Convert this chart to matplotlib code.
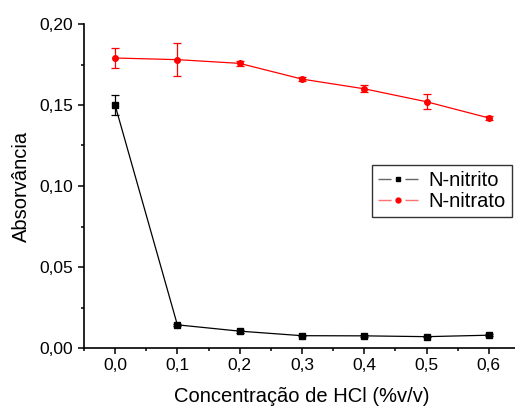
import matplotlib
matplotlib.use("Agg")
import matplotlib.pyplot as plt
from matplotlib.ticker import MultipleLocator, FuncFormatter
from matplotlib.lines import Line2D

plt.rcParams['font.family'] = ['Liberation Sans', 'DejaVu Sans']

hcl = [0.0, 0.1, 0.2, 0.3, 0.4, 0.5, 0.6]
nitrito = [0.150, 0.0143, 0.0104, 0.0076, 0.0075, 0.0070, 0.0079]
nitrito_err = [0.006, 0.0006, 0.0010, 0.0005, 0.0008, 0.0005, 0.0006]
nitrato = [0.179, 0.178, 0.1757, 0.166, 0.160, 0.152, 0.142]
nitrato_err = [0.006, 0.010, 0.0015, 0.0012, 0.0022, 0.0045, 0.0015]

fig = plt.figure(figsize=(5.15, 4.07), dpi=100)
ax = fig.add_axes([83.9/515, 59/407, (520-83.9)/515, 324/407])

ax.errorbar(hcl, nitrito, yerr=nitrito_err, color='black', marker='s', ms=4,
            lw=0.9, elinewidth=0.9, capsize=3, capthick=0.9)
ax.errorbar(hcl, nitrato, yerr=nitrato_err, color='red', marker='o', ms=4,
            lw=0.9, elinewidth=0.9, capsize=3, capthick=0.9)

ax.set_xlim(-0.05, 0.65)
ax.set_ylim(0, 0.20)
ax.xaxis.set_major_locator(MultipleLocator(0.1))
ax.xaxis.set_minor_locator(MultipleLocator(0.05))
ax.yaxis.set_major_locator(MultipleLocator(0.05))
ax.yaxis.set_minor_locator(MultipleLocator(0.025))
ax.xaxis.set_major_formatter(FuncFormatter(lambda v, p: f"{v:.1f}".replace('.', ',')))
ax.yaxis.set_major_formatter(FuncFormatter(lambda v, p: f"{v:.2f}".replace('.', ',')))

ax.spines['top'].set_visible(False)
ax.spines['right'].set_visible(False)
for s in ['left', 'bottom']:
    ax.spines[s].set_linewidth(1.2)
ax.tick_params(which='major', direction='out', length=4.5, width=1.1, labelsize=12.5, pad=3)
ax.tick_params(which='minor', direction='out', length=2.5, width=1.1)

ax.set_xlabel('Concentração de HCl (%v/v)', fontsize=14.5, labelpad=10)
ax.set_ylabel('Absorvância', fontsize=14.5, labelpad=6)

handles = [
    Line2D([], [], color='#666666', lw=1, marker='s', ms=3.5, mfc='black', mec='black',
           linestyle=(0, (9.4, 10))),
    Line2D([], [], color='#ff7070', lw=1, marker='o', ms=3.5, mfc='red', mec='red',
           linestyle=(0, (9.4, 10))),
]
leg = ax.legend(handles, ['N-nitrito', 'N-nitrato'], loc='upper left',
                bbox_to_anchor=(372/515, 1 - 165/407), bbox_transform=fig.transFigure,
                fontsize=14.5, frameon=True, fancybox=False, edgecolor='black',
                handlelength=2.0, handletextpad=0.5, borderpad=0.3,
                labelspacing=0.1, borderaxespad=0)
leg.get_frame().set_linewidth(1.0)

fig.savefig('out.png', dpi=100)
